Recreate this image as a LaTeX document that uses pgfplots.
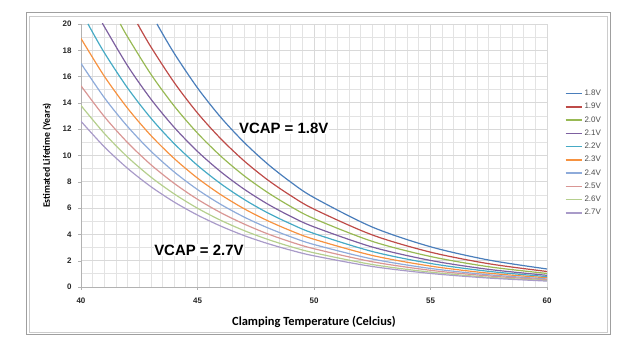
\documentclass[border=0pt]{standalone}
\usepackage{fontspec}
\setmainfont{Carlito}
\newfontfamily\arialfont{Liberation Sans}
\usepackage{pgfplots}
\pgfplotsset{compat=1.18}
\definecolor{c18}{HTML}{4A7EBB}
\definecolor{c19}{HTML}{BE4B48}
\definecolor{c20}{HTML}{98B954}
\definecolor{c21}{HTML}{7D60A0}
\definecolor{c22}{HTML}{46AAC5}
\definecolor{c23}{HTML}{F69240}
\definecolor{c24}{HTML}{8EABDA}
\definecolor{c25}{HTML}{D99694}
\definecolor{c26}{HTML}{B5CF8D}
\definecolor{c27}{HTML}{A99BC9}
\begin{document}
\begin{tikzpicture}
\path (0,0) rectangle (644bp,350bp);
\draw[gray!75, line width=1bp] (26bp,15bp) rectangle (610bp,337bp);
\draw[gray!40, line width=0.8bp] (29bp,18bp) rectangle (607bp,334bp);
\begin{axis}[
  at={(81bp,63bp)}, anchor=south west,
  scale only axis, width=466bp, height=263bp,
  xmin=40, xmax=60, ymin=0, ymax=20,
  xtick={40,45,...,60}, ytick={0,2,...,20},
  minor x tick num=9, minor y tick num=1,
  grid=both,
  major grid style={gray!30, line width=0.8bp},
  minor grid style={gray!22, line width=0.8bp},
  axis lines=left,
  axis line style={-, gray!60, line width=0.8bp},
  tick align=outside, major tick length=3bp, minor tick length=0pt,
  tick style={gray!60},
  /pgf/number format/assume math mode=true,
  ticklabel style={font=\arialfont\bfseries\fontsize{8}{9}\selectfont, text=black!85},
  xticklabel style={yshift=-4bp},
  yticklabel style={xshift=-3bp},
  xlabel={Clamping Temperature (Celcius)},
  ylabel={Estimated Lifetime (Years)},
  xlabel style={at={(axis description cs:0.5,-0.133)}, anchor=center, font=\bfseries\fontsize{12.5}{14}\selectfont},
  ylabel style={at={(axis description cs:-0.073,0.5)}, anchor=center, rotate=0, font=\bfseries\fontsize{9.8}{11}\selectfont},
  legend style={at={(1.038,0.757)}, anchor=north west, draw=none, fill=none,
    font=\arialfont\fontsize{8}{9}\selectfont, row sep=2.2bp,
    inner sep=0pt, cells={anchor=west}},
  legend cell align=left,
  legend image code/.code={\draw[#1, line width=1.6bp] (0bp,0bp) -- (16bp,0bp);},
  every axis plot/.append style={line width=1.2bp, smooth, no marks},
  clip=true,
]
\addplot[c18] coordinates {(43.26,20) (44,17.77) (45,15.14) (46,12.90) (47,11.00) (48,9.37) (49,7.98) (50,6.80) (52.5,4.56) (55,3.06) (57.5,2.05) (60,1.37)};
\addlegendentry{\textcolor{black!70}{1.8V}}
\addplot[c19] coordinates {(42.43,20) (43,18.26) (44,15.55) (45,13.23) (46,11.27) (47,9.59) (48,8.16) (49,6.95) (50,5.92) (52.5,3.96) (55,2.65) (57.5,1.77) (60,1.18)};
\addlegendentry{\textcolor{black!70}{1.9V}}
\addplot[c20] coordinates {(41.69,20) (42,19.02) (43,16.18) (44,13.76) (45,11.70) (46,9.95) (47,8.46) (48,7.20) (49,6.12) (50,5.20) (52.5,3.47) (55,2.32) (57.5,1.54) (60,1.03)};
\addlegendentry{\textcolor{black!70}{2.0V}}
\addplot[c21] coordinates {(40.94,20) (41,19.80) (42,16.82) (43,14.29) (44,12.14) (45,10.31) (46,8.76) (47,7.44) (48,6.32) (49,5.37) (50,4.57) (52.5,3.04) (55,2.02) (57.5,1.34) (60,0.89)};
\addlegendentry{\textcolor{black!70}{2.1V}}
\addplot[c22] coordinates {(40.30,20) (41,17.82) (42,15.13) (43,12.84) (44,10.90) (45,9.25) (46,7.85) (47,6.66) (48,5.65) (49,4.80) (50,4.07) (52.5,2.70) (55,1.79) (57.5,1.19) (60,0.79)};
\addlegendentry{\textcolor{black!70}{2.2V}}
\addplot[c23] coordinates {(40,18.9) (41,16.03) (42,13.59) (43,11.52) (44,9.77) (45,8.28) (46,7.02) (47,5.95) (48,5.05) (49,4.28) (50,3.63) (52.5,2.40) (55,1.59) (57.5,1.05) (60,0.70)};
\addlegendentry{\textcolor{black!70}{2.3V}}
\addplot[c24] coordinates {(40,17.0) (41,14.40) (42,12.20) (43,10.33) (44,8.75) (45,7.41) (46,6.28) (47,5.32) (48,4.51) (49,3.82) (50,3.23) (52.5,2.13) (55,1.41) (57.5,0.93) (60,0.61)};
\addlegendentry{\textcolor{black!70}{2.4V}}
\addplot[c25] coordinates {(40,15.3) (41,12.96) (42,10.98) (43,9.30) (44,7.88) (45,6.67) (46,5.65) (47,4.79) (48,4.05) (49,3.43) (50,2.91) (52.5,1.92) (55,1.27) (57.5,0.84) (60,0.55)};
\addlegendentry{\textcolor{black!70}{2.5V}}
\addplot[c26] coordinates {(40,13.8) (41,11.68) (42,9.88) (43,8.36) (44,7.08) (45,5.99) (46,5.07) (47,4.29) (48,3.63) (49,3.07) (50,2.60) (52.5,1.71) (55,1.13) (57.5,0.74) (60,0.49)};
\addlegendentry{\textcolor{black!70}{2.6V}}
\addplot[c27] coordinates {(40,12.6) (41,10.66) (42,9.02) (43,7.63) (44,6.46) (45,5.47) (46,4.63) (47,3.91) (48,3.31) (49,2.80) (50,2.37) (52.5,1.56) (55,1.03) (57.5,0.68) (60,0.45)};
\addlegendentry{\textcolor{black!70}{2.7V}}
\node[font=\arialfont\bfseries\fontsize{15}{17}\selectfont, fill=white, inner sep=0.5bp] at (axis cs:48.7,12.1) {VCAP = 1.8V};
\node[font=\arialfont\bfseries\fontsize{15}{17}\selectfont, fill=white, inner sep=0.5bp] at (axis cs:45.06,2.8) {VCAP = 2.7V};
\end{axis}
\end{tikzpicture}
\end{document}
